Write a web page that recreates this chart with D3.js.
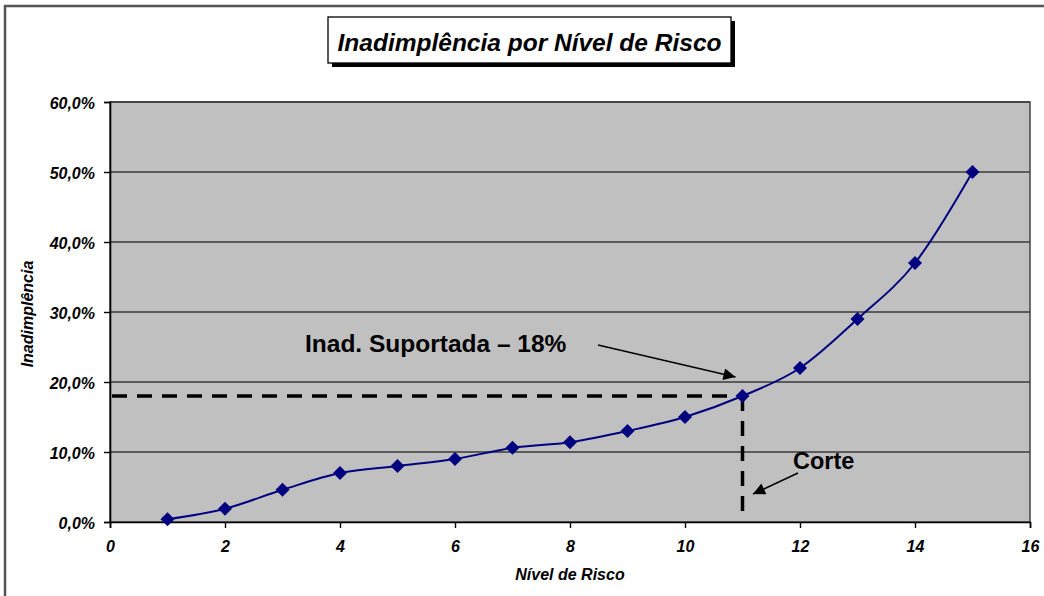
<!DOCTYPE html>
<html>
<head>
<meta charset="utf-8">
<script src="https://cdn.jsdelivr.net/npm/d3@7"></script>
<style>
  html, body { margin: 0; padding: 0; background: #ffffff; }
  svg { display: block; }
  text { font-family: "Liberation Sans", Arial, sans-serif; }
</style>
</head>
<body>
<svg id="chart" width="1044" height="596"></svg>
<script>
// Default rate (%) for each risk level
const riskLevels = [1, 2, 3, 4, 5, 6, 7, 8, 9, 10, 11, 12, 13, 14, 15];
const defaultRates = [0.4, 1.9, 4.6, 7.0, 8.0, 9.0, 10.6, 11.4, 13.0, 15.0, 18.0, 22.0, 29.0, 37.0, 50.0];

// Axis ticks
const xTicks = [0, 2, 4, 6, 8, 10, 12, 14, 16];
const yTicks = [0, 10, 20, 30, 40, 50, 60];

// Tolerated default and cut-off level
const toleratedRate = 18;
const cutLevel = 11;

const titleText = "Inadimplência por Nível de Risco";
const xTitle = "Nível de Risco";
const yTitle = "Inadimplência";
const noteTolerated = "Inad. Suportada – 18%";
const noteCut = "Corte";

const svg = d3.select("#chart");

const plot = { left: 110, right: 1030, top: 102, bottom: 522 };
const x = d3.scaleLinear().domain([0, 16]).range([plot.left, plot.right]);
const y = d3.scaleLinear().domain([0, 60]).range([plot.bottom, plot.top]);
const fmtPct = v => d3.format(".1f")(v).replace(".", ",") + "%";

// Outer chart frame
svg.append("rect")
  .attr("x", 5).attr("y", 6).attr("width", 1100).attr("height", 700)
  .attr("fill", "none").attr("stroke", "#555").attr("stroke-width", 2.5);

// Plot area
svg.append("rect")
  .attr("x", plot.left).attr("y", plot.top)
  .attr("width", plot.right - plot.left).attr("height", plot.bottom - plot.top)
  .attr("fill", "#c0c0c0").attr("stroke", "#444").attr("stroke-width", 1.5);

// Horizontal gridlines
svg.append("g").selectAll("line")
  .data(yTicks.filter(d => d > 0))
  .join("line")
  .attr("x1", plot.left).attr("x2", plot.right)
  .attr("y1", d => y(d)).attr("y2", d => y(d))
  .attr("stroke", "#3a3a3a").attr("stroke-width", 1.3);

// Y axis
const yAxis = svg.append("g")
  .attr("transform", `translate(${plot.left},0)`)
  .call(d3.axisLeft(y).tickValues(yTicks).tickFormat(fmtPct).tickSize(6).tickPadding(9));
yAxis.select(".domain").attr("stroke", "#000").attr("stroke-width", 1.6);
yAxis.selectAll(".tick line").attr("stroke", "#000").attr("stroke-width", 1.4);
yAxis.selectAll(".tick text")
  .attr("font-family", "Liberation Sans, Arial, sans-serif")
  .attr("font-size", 16).attr("font-weight", "bold").attr("font-style", "italic")
  .attr("fill", "#000").attr("dy", "0.42em");

// X axis
const xAxis = svg.append("g")
  .attr("transform", `translate(0,${plot.bottom})`)
  .call(d3.axisBottom(x).tickValues(xTicks).tickFormat(d3.format("d")).tickSize(6).tickPadding(13));
xAxis.select(".domain").attr("stroke", "#000").attr("stroke-width", 1.6);
xAxis.selectAll(".tick line").attr("stroke", "#000").attr("stroke-width", 1.4);
xAxis.selectAll(".tick text")
  .attr("font-family", "Liberation Sans, Arial, sans-serif")
  .attr("font-size", 16).attr("font-weight", "bold").attr("font-style", "italic")
  .attr("fill", "#000");

// Axis titles
svg.append("text")
  .attr("x", (plot.left + plot.right) / 2).attr("y", 580)
  .attr("text-anchor", "middle")
  .attr("font-size", 16).attr("font-weight", "bold").attr("font-style", "italic")
  .text(xTitle);

svg.append("text")
  .attr("transform", `translate(33,${(plot.top + plot.bottom) / 2 + 2}) rotate(-90)`)
  .attr("text-anchor", "middle")
  .attr("font-size", 16).attr("font-weight", "bold").attr("font-style", "italic")
  .text(yTitle);

// Dashed guides for tolerated rate and cut-off level
const dash = "15,10";
svg.append("line")
  .attr("x1", plot.left + 2).attr("x2", x(cutLevel))
  .attr("y1", y(toleratedRate)).attr("y2", y(toleratedRate))
  .attr("stroke", "#000").attr("stroke-width", 3.5).attr("stroke-dasharray", dash);
svg.append("line")
  .attr("x1", x(cutLevel)).attr("x2", x(cutLevel))
  .attr("y1", y(toleratedRate)).attr("y2", plot.bottom - 10)
  .attr("stroke", "#000").attr("stroke-width", 3.5).attr("stroke-dasharray", dash);

// Series line (smoothed)
const pts = riskLevels.map((lv, i) => [x(lv), y(defaultRates[i])]);
svg.append("path")
  .attr("d", d3.line().curve(d3.curveCatmullRom.alpha(0))(pts))
  .attr("fill", "none").attr("stroke", "#000080").attr("stroke-width", 2);

// Diamond markers
svg.append("g").selectAll("path")
  .data(pts)
  .join("path")
  .attr("transform", d => `translate(${d[0]},${d[1]})`)
  .attr("d", "M0,-7L7,0L0,7L-7,0Z")
  .attr("fill", "#000080");

// Arrow marker
svg.append("defs").append("marker")
  .attr("id", "head").attr("viewBox", "0 0 10 10")
  .attr("refX", 10).attr("refY", 5)
  .attr("markerWidth", 15).attr("markerHeight", 12)
  .attr("markerUnits", "userSpaceOnUse")
  .attr("orient", "auto")
  .append("path").attr("d", "M0,0L10,5L0,10Z").attr("fill", "#000");

// Annotations
svg.append("text")
  .attr("x", 305).attr("y", 352)
  .attr("font-size", 24.5).attr("font-weight", "bold").attr("fill", "#000")
  .text(noteTolerated);
svg.append("line")
  .attr("x1", 598).attr("y1", 345).attr("x2", x(cutLevel) - 7).attr("y2", 377)
  .attr("stroke", "#000").attr("stroke-width", 1.6)
  .attr("marker-end", "url(#head)");

svg.append("text")
  .attr("x", 793).attr("y", 469)
  .attr("font-size", 23.5).attr("font-weight", "bold").attr("fill", "#000")
  .text(noteCut);
svg.append("line")
  .attr("x1", 798).attr("y1", 473).attr("x2", 753).attr("y2", 494)
  .attr("stroke", "#000").attr("stroke-width", 1.6)
  .attr("marker-end", "url(#head)");

// Title box with drop shadow
const tb = { x: 328, y: 17, w: 403, h: 46 };
svg.append("rect")
  .attr("x", tb.x + 4).attr("y", tb.y + 4).attr("width", tb.w).attr("height", tb.h)
  .attr("fill", "#000");
svg.append("rect")
  .attr("x", tb.x).attr("y", tb.y).attr("width", tb.w).attr("height", tb.h)
  .attr("fill", "#fff").attr("stroke", "#000").attr("stroke-width", 1.3);
svg.append("text")
  .attr("x", tb.x + tb.w / 2).attr("y", 51)
  .attr("text-anchor", "middle")
  .attr("font-size", 24.5).attr("font-weight", "bold").attr("font-style", "italic")
  .attr("fill", "#000")
  .text(titleText);
</script>
</body>
</html>
